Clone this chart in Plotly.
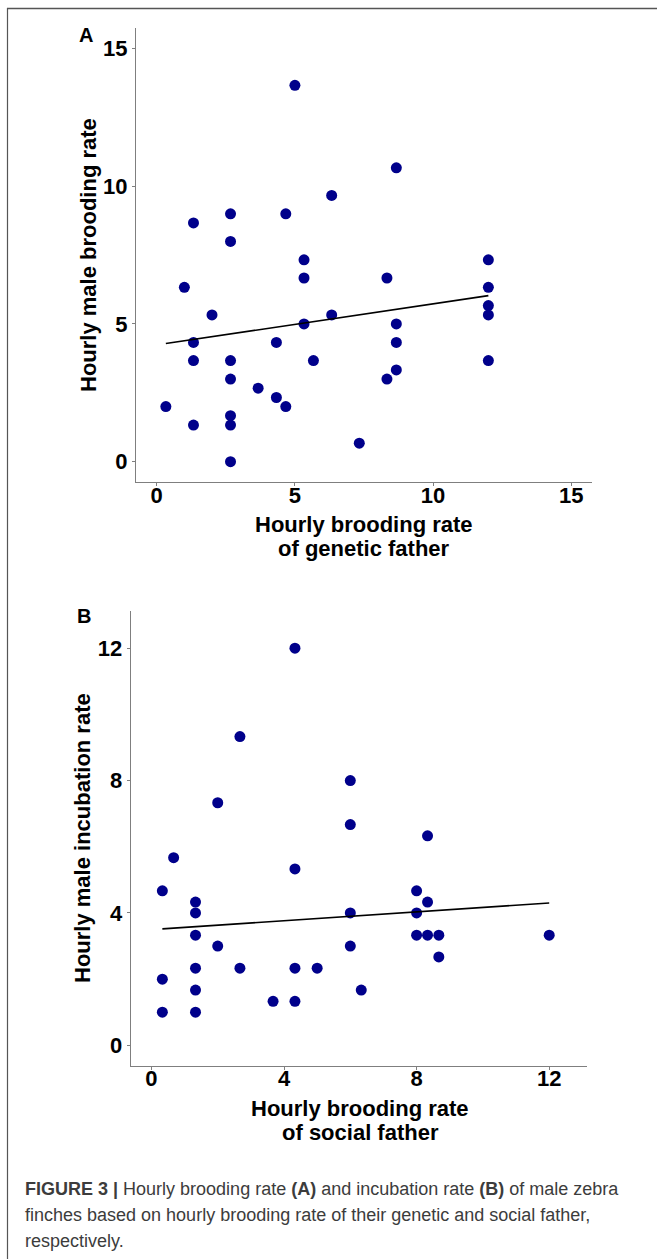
import plotly.graph_objects as go

# ---------------- data ----------------
# Panel A: hourly brooding rate of genetic father (x) vs hourly male brooding rate (y)
a_x = [5, 8.67, 6.33, 1.33, 2.67, 4.67, 2.67, 5.33, 12, 5.33, 8.33, 1, 12,
       2, 6.33, 12, 12, 5.33, 8.67, 1.33, 4.33, 8.67, 1.33, 2.67, 5.67, 12,
       8.67, 2.67, 8.33, 3.67, 4.33, 0.33, 4.67, 2.67, 1.33, 2.67, 7.33, 2.67]
a_y = [13.67, 10.67, 9.67, 8.67, 9, 9, 8, 7.33, 7.33, 6.67, 6.67, 6.33, 6.33,
       5.33, 5.33, 5.67, 5.33, 5, 5, 4.33, 4.33, 4.33, 3.67, 3.67, 3.67, 3.67,
       3.33, 3, 3, 2.67, 2.33, 2, 2, 1.67, 1.33, 1.33, 0.67, 0]
# fitted line of panel A
a_fit_x = [0.33, 12]
a_fit_y = [4.29, 6.03]

# Panel B: hourly brooding rate of social father (x) vs hourly male incubation rate (y)
b_x = [4.33, 2.67, 6, 2, 6, 8.33, 0.67, 4.33, 0.33, 8, 1.33, 8.33, 1.33, 6, 8,
       1.33, 8, 8.33, 8.67, 12, 2, 6, 8.67, 1.33, 2.67, 4.33, 5, 0.33, 1.33,
       6.33, 3.67, 4.33, 0.33, 1.33]
b_y = [12, 9.33, 8, 7.33, 6.67, 6.33, 5.67, 5.33, 4.67, 4.67, 4.33, 4.33, 4, 4, 4,
       3.33, 3.33, 3.33, 3.33, 3.33, 3, 3, 2.67, 2.33, 2.33, 2.33, 2.33, 2, 1.67,
       1.67, 1.33, 1.33, 1, 1]
# fitted line of panel B
b_fit_x = [0.33, 12]
b_fit_y = [3.52, 4.30]

a_ticks = [0, 5, 10, 15]
b_ticks = [0, 4, 8, 12]

caption_lines = [
    "<b>FIGURE 3 |</b> Hourly brooding rate <b>(A)</b> and incubation rate <b>(B)</b> of male zebra",
    "finches based on hourly brooding rate of their genetic and social father,",
    "respectively.",
]

# ---------------- figure ----------------
W, H = 657, 1259
NAVY = "#00008B"
AXC = "#7f7f7f"


def px(x):
    return x / W


def py(y):
    return 1 - y / H


fig = go.Figure()


def add_panel(xs, ys, fx, fy, xa, ya):
    fig.add_trace(go.Scatter(x=xs, y=ys, mode="markers", xaxis=xa, yaxis=ya,
                             marker=dict(color=NAVY, size=11, line=dict(width=0)),
                             showlegend=False, hoverinfo="skip"))
    fig.add_trace(go.Scatter(x=fx, y=fy, mode="lines", xaxis=xa, yaxis=ya,
                             line=dict(color="black", width=1.6),
                             showlegend=False, hoverinfo="skip"))


add_panel(a_x, a_y, a_fit_x, a_fit_y, "x", "y")
add_panel(b_x, b_y, b_fit_x, b_fit_y, "x2", "y2")

tickfont = dict(family="Liberation Sans, Arial, sans-serif", size=22, color="black", weight="bold")
axis_common = dict(showline=True, linecolor=AXC, linewidth=1, ticks="outside", ticklen=3,
                   tickcolor=AXC, tickwidth=1, showgrid=False, zeroline=False,
                   tickfont=tickfont, mirror=False)

fig.update_layout(
    width=W, height=H, margin=dict(l=0, r=0, t=0, b=0),
    paper_bgcolor="white", plot_bgcolor="white",
    xaxis=dict(domain=[px(136), px(592)], range=[-0.75, 15.75], tickvals=a_ticks,
               anchor="y", ticklabelstandoff=-10, **axis_common),
    yaxis=dict(domain=[py(482.3), py(28)], range=[-0.75, 15.75], tickvals=a_ticks,
               anchor="x", **axis_common),
    xaxis2=dict(domain=[px(130.7), px(586.5)], range=[-0.625, 13.125], tickvals=b_ticks,
                anchor="y2", ticklabelstandoff=-10, **axis_common),
    yaxis2=dict(domain=[py(1066), py(611)], range=[-0.625, 13.125], tickvals=b_ticks,
                anchor="x2", **axis_common),
)

bold = dict(family="Liberation Sans, Arial, sans-serif", size=22, color="black")


def note(text, x, y, font, angle=0, xanchor="center"):
    return dict(text=text, x=px(x), y=py(y), xref="paper", yref="paper", showarrow=False,
                xanchor=xanchor, yanchor="middle", textangle=angle, font=font)


letter_font = dict(family="Liberation Sans, Arial, sans-serif", size=20, color="black")
ann = [
    note("<b>A</b>", 86, 35, letter_font),
    note("<b>B</b>", 84, 616, letter_font),
    note("<b>Hourly male brooding rate</b>", 88, 255, bold, angle=-90),
    note("<b>Hourly male incubation rate</b>", 82, 838, bold, angle=-90),
    note("<b>Hourly brooding rate</b>", 364, 525, bold),
    note("<b>of genetic father</b>", 364, 549, bold),
    note("<b>Hourly brooding rate</b>", 360, 1108, bold),
    note("<b>of social father</b>", 360, 1132, bold),
]
cap_font = dict(family="Liberation Sans, Arial, sans-serif", size=18, color="#3c3c3c")
for t, yy in zip(caption_lines, [1189, 1215, 1241]):
    ann.append(note(t, 23, yy, cap_font, xanchor="left"))
fig.update_layout(annotations=ann)

# frame lines
fig.add_shape(type="line", xref="paper", yref="paper", x0=px(7), x1=px(657), y0=py(8.5), y1=py(8.5),
              line=dict(color="#555555", width=1.5))
fig.add_shape(type="line", xref="paper", yref="paper", x0=px(7.5), x1=px(7.5), y0=py(8), y1=py(1259),
              line=dict(color="#555555", width=1.2))

fig.write_html("out.html", config={"displayModeBar": False},
               post_script="document.body.style.margin='0';document.body.style.overflow='hidden';")
